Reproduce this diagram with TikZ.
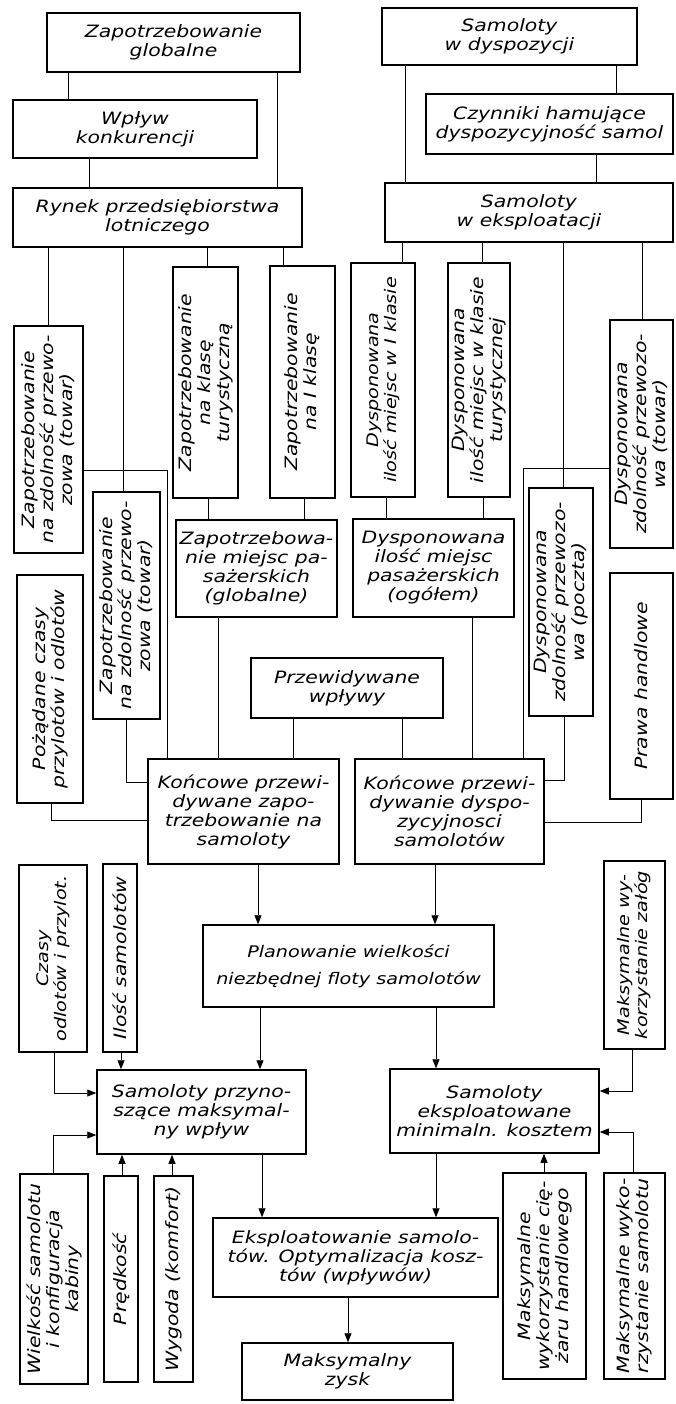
\documentclass[tikz,border=0pt]{standalone}
\usepackage{fontspec}
\setmainfont{DejaVu Sans}[FakeStretch=1.2]
\usetikzlibrary{arrows.meta}

\begin{document}
\begin{tikzpicture}[
  x=1pt, y=-1pt,
  >={Triangle[length=9pt,width=7pt]},
  every node/.style={draw,line width=1.5pt,align=center,inner sep=1pt,
    font=\itshape\fontsize{17}{19}\selectfont},
  hbox/.style 2 args={minimum width=#1pt,minimum height=#2pt},
  vbox/.style 2 args={rotate=90,minimum width=#2pt,minimum height=#1pt},
  tight/.style={font=\itshape\fontsize{16}{18}\selectfont},
  link/.style={draw,line width=0.8pt},
  ]
  \useasboundingbox (0,0) rectangle (675,1404);
  % demand side
  \node[hbox={253}{59}] (zglob) at (173.5,42.5) {Zapotrzebowanie\\globalne};
  \node[hbox={244}{58}] (wplyw) at (135,129) {Wpływ\\konkurencji};
  \node[hbox={289}{59}] (rynek) at (157.5,217.5) {Rynek przedsiębiorstwa\\lotniczego};
  \node[vbox={69}{227}] (zzdol1) at (48.5,439.5) {Zapotrzebowanie\\na zdolność przewo-\\zowa (towar)};
  \node[vbox={65}{231}] (zturyst) at (205.5,382.5) {Zapotrzebowanie\\na klasę\\turystyczną};
  \node[vbox={65}{232}] (zIkl) at (302.5,382) {Zapotrzebowanie\\na I klasę};
  \node[vbox={67}{227}] (zzdol2) at (126.5,605.5) {Zapotrzebowanie\\na zdolność przewo-\\zowa (towar)};
  \node[vbox={66}{228}] (czasy) at (50,689) {Pożądane czasy\\przylotów i odlotów};
  \node[hbox={161}{97}] (zmiejsc) at (256.5,568.5) {Zapotrzebowa-\\nie miejsc pa-\\sażerskich\\(globalne)};
  % supply side
  \node[hbox={255}{57}] (sdysp) at (509.5,36.5) {Samoloty\\w dyspozycji};
  \node[hbox={247}{60}] (czyn) at (549.5,124) {Czynniki hamujące\\dyspozycyjność samol};
  \node[hbox={288}{59}] (seksp) at (529,212.5) {Samoloty\\w eksploatacji};
  \node[vbox={64}{234},tight] (dIkl) at (383,380) {Dysponowana\\ilość miejsc w I klasie};
  \node[vbox={62}{234}] (dturyst) at (479,380) {Dysponowana\\ilość miejsc w klasie\\turystycznej};
  \node[vbox={63}{228}] (dtowar) at (641.5,434) {Dysponowana\\zdolność przewozo-\\wa (towar)};
  \node[vbox={64}{228}] (dpoczta) at (561,602) {Dysponowana\\zdolność przewozo-\\wa (poczta)};
  \node[vbox={63}{226}] (prawa) at (641.5,686) {Prawa handlowe};
  \node[hbox={161}{98}] (dmiejsc) at (433.5,568) {Dysponowana\\ilość miejsc\\pasażerskich\\(ogółem)};
  % forecasts
  \node[hbox={192}{60},line width=2pt] (wplywy) at (347,688) {Przewidywane\\wpływy};
  \node[hbox={191}{105}] (konzap) at (243.5,811.5) {Końcowe przewi-\\dywane zapo-\\trzebowanie na\\samoloty};
  \node[hbox={189}{105}] (kondysp) at (449.5,811.5) {Końcowe przewi-\\dywanie dyspo-\\zycyjnosci\\samolotów};
  \node[hbox={291}{82},tight] (plan) at (348.5,966) {Planowanie wielkości\\[9pt]niezbędnej floty samolotów};
  % fleet
  \node[vbox={68}{187},tight] (czasyod) at (53,958.5) {Czasy\\odlotów i przylot.};
  \node[vbox={34}{188}] (ilosc) at (120,958) {Ilość samolotów};
  \node[vbox={61}{188},tight] (mzal) at (634.5,955) {Maksymalne wy-\\korzystanie załóg};
  \node[hbox={209}{84}] (smaks) at (201.5,1112) {Samoloty przyno-\\szące maksymal-\\ny wpływ};
  \node[hbox={209}{84}] (smin) at (494.5,1111) {Samoloty\\eksploatowane\\minimaln. kosztem};
  \node[vbox={68}{210}] (wielk) at (54,1279) {Wielkość samolotu\\i konfiguracja\\kabiny};
  \node[vbox={34}{206}] (predk) at (121,1279) {Prędkość};
  \node[vbox={39}{206}] (wygoda) at (173.5,1279) {Wygoda (komfort)};
  \node[vbox={83}{206}] (mciez) at (544.5,1276) {Maksymalne\\wykorzystanie cię-\\żaru handlowego};
  \node[vbox={61}{206}] (msam) at (634.5,1276) {Maksymalne wyko-\\rzystanie samolotu};
  \node[hbox={285}{79}] (eksp) at (355.5,1257.5) {Eksploatowanie samolo-\\tów. Optymalizacja kosz-\\tów (wpływów)};
  \node[hbox={211}{57}] (zysk) at (347.5,1371.5) {Maksymalny\\zysk};

  % top part, plain lines
  \draw[link] (zglob.south -| 68,0) -- (wplyw.north -| 68,0);
  \draw[link] (zglob.south -| 277,0) -- (rynek.north -| 277,0);
  \draw[link] (wplyw.south -| 89,0) -- (rynek.north -| 89,0);
  \draw[link] (sdysp.south -| 405,0) -- (seksp.north -| 405,0);
  \draw[link] (sdysp.south -| 616,0) -- (czyn.north -| 616,0);
  \draw[link] (czyn.south -| 596,0) -- (seksp.north -| 596,0);
  \draw[link] (rynek.south -| 48,0) -- (zzdol1.east -| 48,0);
  \draw[link] (rynek.south -| 123,0) -- (zzdol2.east -| 123,0);
  \draw[link] (rynek.south -| 207,0) -- (zturyst.east -| 207,0);
  \draw[link] (rynek.south -| 283,0) -- (zIkl.east -| 283,0);
  \draw[link] (zturyst.west -| 208,0) -- (zmiejsc.north -| 208,0);
  \draw[link] (zIkl.west -| 304,0) -- (zmiejsc.north -| 304,0);
  \draw[link] (seksp.south -| 402,0) -- (dIkl.east -| 402,0);
  \draw[link] (seksp.south -| 482,0) -- (dturyst.east -| 482,0);
  \draw[link] (seksp.south -| 563,0) -- (dpoczta.east -| 563,0);
  \draw[link] (seksp.south -| 642,0) -- (dtowar.east -| 642,0);
  \draw[link] (dIkl.west -| 386,0) -- (dmiejsc.north -| 386,0);
  \draw[link] (dturyst.west -| 483,0) -- (dmiejsc.north -| 483,0);
  % into the final forecasts
  \draw[link] (zzdol1.south |- 0,470) -| (konzap.north -| 167,0);
  \draw[link] (zzdol2.west -| 126,0) |- (konzap.west |- 0,782);
  \draw[link] (czasy.west -| 51,0) |- (konzap.west |- 0,820);
  \draw[link] (zmiejsc.south -| 218,0) -- (konzap.north -| 218,0);
  \draw[link] (wplywy.south -| 293,0) -- (konzap.north -| 293,0);
  \draw[link] (wplywy.south -| 402,0) -- (kondysp.north -| 402,0);
  \draw[link] (dmiejsc.south -| 472,0) -- (kondysp.north -| 472,0);
  \draw[link] (dtowar.north |- 0,468) -| (kondysp.north -| 523,0);
  \draw[link] (dpoczta.west -| 564,0) |- (kondysp.east |- 0,780);
  \draw[link] (prawa.west -| 641,0) |- (kondysp.east |- 0,822);
  % arrows
  \draw[link,->] (konzap.south -| 258,0) -- (plan.north -| 258,0);
  \draw[link,->] (kondysp.south -| 435,0) -- (plan.north -| 435,0);
  \draw[link,->] (plan.south -| 260,0) -- (smaks.north -| 260,0);
  \draw[link,->] (plan.south -| 436,0) -- (smin.north -| 436,0);
  \draw[link,->] (czasyod.west -| 54,0) |- (smaks.west |- 0,1093);
  \draw[link,->] (ilosc.west -| 121,0) -- (smaks.north -| 121,0);
  \draw[link,->] (wielk.east -| 53,0) |- (smaks.west |- 0,1135);
  \draw[link,->] (predk.east -| 122,0) -- (smaks.south -| 122,0);
  \draw[link,->] (wygoda.east -| 172,0) -- (smaks.south -| 172,0);
  \draw[link,->] (mzal.west -| 632,0) |- (smin.east |- 0,1091);
  \draw[link,->] (msam.east -| 633,0) |- (smin.east |- 0,1132);
  \draw[link,->] (mciez.east -| 544,0) -- (smin.south -| 544,0);
  \draw[link,->] (smaks.south -| 262,0) -- (eksp.north -| 262,0);
  \draw[link,->] (smin.south -| 436,0) -- (eksp.north -| 436,0);
  \draw[link,->] (eksp.south -| 348,0) -- (zysk.north -| 348,0);
\end{tikzpicture}
\end{document}
